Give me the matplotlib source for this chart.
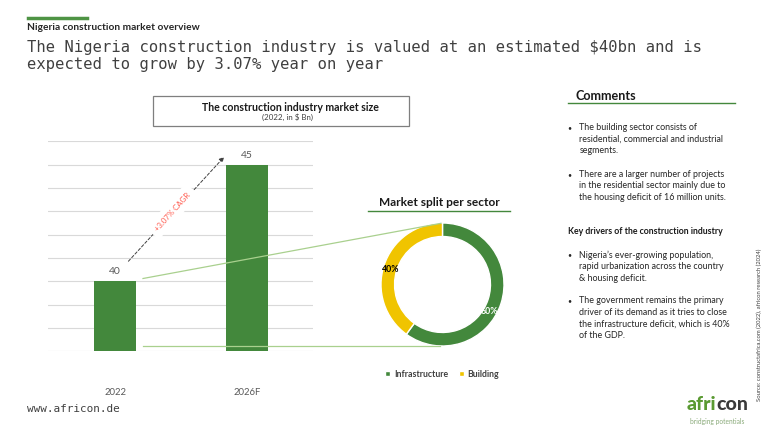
import matplotlib
matplotlib.use("Agg")
import matplotlib.pyplot as plt
from matplotlib.lines import Line2D
from matplotlib.patches import Rectangle

# ---------------- data ----------------
years = ["2022", "2026F"]
market_size = [40, 45]
sectors = ["Infrastructure", "Building"]
sector_share = [60, 40]
cagr_label = "+3.07% CAGR"

header_small = "Nigeria construction market overview"
header_big = ["The Nigeria construction industry is valued at an estimated $40bn and is",
              "expected to grow by 3.07% year on year"]
comments_1 = [["The building sector consists of", "residential, commercial and industrial", "segments."],
              ["There are a larger number of projects", "in the residential sector mainly due to",
               "the housing deficit of 16 million units."]]
drivers_title = "Key drivers of the construction industry"
comments_2 = [["Nigeria\u2019s ever-growing population,", "rapid urbanization across the country",
               "& housing deficit."],
              ["The government remains the primary", "driver of its demand as it tries to close",
               "the infrastructure deficit, which is 40%", "of the GDP."]]
source = "Source: constructafrica.com (2022), africon research (2024)"

GREEN = "#43883c"
YELLOW = "#f0c400"
LIGHTGREEN = "#a9d08e"
DARK = "#404040"
W, H = 768, 431

plt.rcParams['font.family'] = ['Lato', 'DejaVu Sans']
fig = plt.figure(figsize=(W / 100, H / 100), dpi=100)


def fx(x):
    return x / W


def fy(y):
    return 1 - y / H


def txt(x, y, s, **kw):
    return fig.text(fx(x), fy(y), s, **kw)


# ---------------- header ----------------
fig.add_artist(Line2D([fx(27.5), fx(86.5)], [fy(18.5), fy(18.5)], color='#4e9444', lw=2.5))
txt(27, 28, header_small, fontsize=7.3, fontweight='bold', color='#262626', va='center')
txt(27, 68.5, "\n".join(header_big), fontsize=11.2, family='DejaVu Sans Mono', color=DARK,
    va='baseline', linespacing=1.1)

# ---------------- bar chart ----------------
base, top = 352.3, 142.3
axb = fig.add_axes([fx(48), fy(base), fx(313) - fx(48), (base - top) / H])
axb.bar(range(len(years)), market_size, width=0.315, color=GREEN, zorder=3)
axb.set_ylim(37, 46)
axb.set_xlim(-0.51, 1.5)
axb.set_yticks(range(37, 47))
axb.yaxis.grid(True, color='#d9d9d9', lw=0.8, zorder=0)
axb.tick_params(axis='y', left=False, labelleft=False)
axb.set_xticks(range(len(years)))
axb.set_xticklabels(years, fontsize=6.8, color='#595959')
axb.tick_params(axis='x', length=0, pad=25.5)
for s in axb.spines.values():
    s.set_visible(False)
for i, v in enumerate(market_size):
    axb.text(i, v + 0.25, str(v), ha='center', va='bottom', fontsize=7.5, color='#595959')

# CAGR arrow
x0, y0 = 0.1, market_size[0] + 0.86
x1, y1 = 0.826, market_size[1] + 0.33
axb.annotate("", xy=(x1, y1), xytext=(x0, y0),
             arrowprops=dict(arrowstyle='-|>', linestyle=(0, (3, 2)), color='#404040', lw=0.7,
                             mutation_scale=7, shrinkA=0, shrinkB=0))
axb.text((x0 + x1) / 2 - 0.03, (y0 + y1) / 2 - 0.1, cagr_label, rotation=48, ha='center', va='center',
         fontsize=5.6, color='#ff5a4e', bbox=dict(boxstyle='square,pad=0.7', fc='white', ec='none'), zorder=5)

# chart title box
fig.add_artist(Rectangle((fx(152.7), fy(127.3)), fx(409.3) - fx(152.7), (127.3 - 97.3) / H,
                         fill=False, ec='#7f7f7f', lw=0.9, transform=fig.transFigure))
txt(290, 107.5, "The construction industry market size", fontsize=7.6, fontweight='bold',
    color='#1a1a1a', ha='center', va='center')
txt(288, 117.5, "(2022, in $ Bn)", fontsize=5.7, color='#404040', ha='center', va='center')

# ---------------- donut ----------------
cx, cy, r = 442.5, 285.5, 61.5
axp = fig.add_axes([fx(cx - r), fy(cy + r), 2 * r / W, 2 * r / H])
wedges, _, autotexts = axp.pie(sector_share, colors=[GREEN, YELLOW], startangle=90, counterclock=False,
                               radius=1, autopct='%d%%', pctdistance=0.86,
                               wedgeprops=dict(width=0.22, edgecolor='white', linewidth=1))
axp.set_xlim(-1, 1)
axp.set_ylim(-1, 1)
axp.set_aspect('equal')
autotexts[0].set_color('white')
autotexts[1].set_color('black')
autotexts[0].set_position((0.76, -0.43))
autotexts[1].set_position((-0.84, 0.26))
for t in autotexts:
    t.set_fontsize(6.3)
    t.set_fontweight('bold')
    t.set_clip_on(False)

txt(439, 203, "Market split per sector", fontsize=8.6, fontweight='bold', color='#1a1a1a',
    ha='center', va='center')
fig.add_artist(Line2D([fx(368), fx(510)], [fy(211.5), fy(211.5)], color=GREEN, lw=1))

fig.legend(wedges, sectors, loc='center', bbox_to_anchor=(fx(442), fy(375)), ncol=2, frameon=False,
           prop=dict(size=6.3, weight='bold'), labelcolor='#404040', handlelength=0.6, handleheight=0.6,
           handletextpad=0.4, columnspacing=1.2)

# connector lines
fig.add_artist(Line2D([fx(143), fx(441)], [fy(279.5), fy(224.3)], color=LIGHTGREEN, lw=0.9))
fig.add_artist(Line2D([fx(143), fx(440)], [fy(346.5), fy(346.5)], color=LIGHTGREEN, lw=0.9))

# ---------------- comments panel ----------------
txt(575, 96, "Comments", fontsize=9.1, fontweight='bold', color='#1a1a1a', va='center')
fig.add_artist(Line2D([fx(568), fx(735)], [fy(104), fy(104)], color=GREEN, lw=1))

LS = 11.6


def bullets(groups, starts):
    for lines, y in zip(groups, starts):
        txt(567.5, y, "\u2022", fontsize=5.0, color='#262626', va='center')
        for k, line in enumerate(lines):
            txt(579.3, y + k * LS, line, fontsize=6.4, color='#262626', va='center')


bullets(comments_1, [127.7, 174.3])
txt(568.3, 231.7, drivers_title, fontsize=6.3, fontweight='bold', color='#1a1a1a', va='center')
bullets(comments_2, [255, 300.7])

txt(759, 325, source, fontsize=4.2, rotation=90, color='#404040', ha='center', va='center')

# ---------------- footer ----------------
txt(27, 409, "www.africon.de", fontsize=7.9, family='DejaVu Sans Mono', color=DARK, va='center')
con = txt(748, 410, "con", fontsize=14, fontweight='black', color='#3a3a3a', ha='right', va='baseline')
fig.canvas.draw()
bb = con.get_window_extent(fig.canvas.get_renderer())
fig.text(bb.x0 / W + 0.3 / W, fy(410), "afri", fontsize=14, fontweight='black', color='#5a9a32',
         ha='right', va='baseline')
txt(717, 421.5, "bridging potentials", fontsize=4.8, color='#8aaa7a', ha='center', va='center')

fig.savefig("out.png", dpi=100)
